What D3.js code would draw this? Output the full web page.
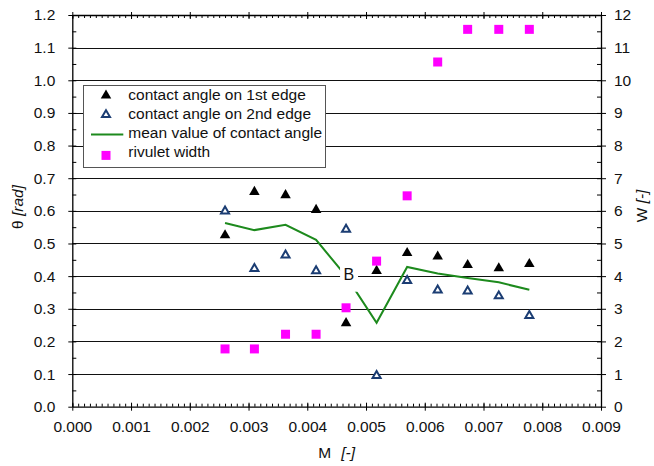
<!DOCTYPE html>
<html>
<head>
<meta charset="utf-8">
<script src="https://cdn.jsdelivr.net/npm/d3@7"></script>
<style>
  body { margin: 0; background: #fff; }
  text { font-family: "Liberation Sans", Arial, sans-serif; fill: #111; }
</style>
</head>
<body>
<div id="chart"></div>
<script>
// data
const mValues = [0.0026, 0.0031, 0.00363, 0.00415, 0.00466, 0.00518, 0.0057, 0.00622, 0.00673, 0.00726, 0.00778];
const angle1st = [0.525, 0.658, 0.648, 0.603, 0.256, 0.416, 0.471, 0.46, 0.434, 0.424, 0.437];
const angle2nd = [0.599, 0.423, 0.464, 0.416, 0.543, 0.095, 0.386, 0.357, 0.354, 0.339, 0.279];
const angleMean = [0.563, 0.541, 0.557, 0.511, 0.4, 0.257, 0.428, 0.408, 0.394, 0.381, 0.358];
const rivuletWidth = [1.77, 1.77, 2.22, 2.22, 3.03, 4.46, 6.46, 10.56, 11.56, 11.56, 11.56];

const xTicks = [0, 0.001, 0.002, 0.003, 0.004, 0.005, 0.006, 0.007, 0.008, 0.009];
const yTicks = [0, 0.1, 0.2, 0.3, 0.4, 0.5, 0.6, 0.7, 0.8, 0.9, 1.0, 1.1, 1.2];
const wTicks = [0, 1, 2, 3, 4, 5, 6, 7, 8, 9, 10, 11, 12];

const legendLabels = [
  "contact angle on 1st edge",
  "contact angle on 2nd edge",
  "mean value of contact angle",
  "rivulet width",
];
const pointLabel = { text: "B", index: 4, value: 0.4 };

//////////LAYOUT//////////
const svgObj = { width: 654, height: 466 };
const plot = { left: 72.3, right: 601, top: 15, bottom: 406.7 };
const fontSize = 15.5;

const colors = {
  first: "#000000",
  second: "#1b3d73",
  mean: "#1d8a1d",
  width: "#ff00ff",
  grid: "#111111",
};

const xScale = d3.scaleLinear().domain([0, 0.009]).range([plot.left, plot.right]);
const yScale = d3.scaleLinear().domain([0, 1.2]).range([plot.bottom, plot.top]);
const wScale = d3.scaleLinear().domain([0, 12]).range([plot.bottom, plot.top]);

const svg = d3
  .select("#chart")
  .append("svg")
  .attr("width", svgObj.width)
  .attr("height", svgObj.height);

// gridlines
svg
  .append("g")
  .selectAll("line")
  .data(yTicks.filter((d) => d > 0 && d < 1.2))
  .join("line")
  .attr("x1", plot.left)
  .attr("x2", plot.right)
  .attr("y1", (d) => Math.round(yScale(d)) + 0.5)
  .attr("y2", (d) => Math.round(yScale(d)) + 0.5)
  .attr("stroke", colors.grid)
  .attr("stroke-width", 1);

// minor tick values
const xMinor = d3.range(0, 91).map((i) => i * 0.0001);
const yMinor = d3.range(0, 24).map((i) => i * 0.05 + 0.05);
const wMinor = d3.range(0, 24).map((i) => i * 0.5 + 0.5);

// bottom axis
const bottomAxis = svg
  .append("g")
  .attr("transform", `translate(0, ${plot.bottom})`)
  .call(d3.axisBottom(xScale).tickValues(xMinor).tickSize(-3).tickFormat("").tickSizeOuter(0));
bottomAxis.select(".domain").remove();
svg
  .append("g")
  .attr("transform", `translate(0, ${plot.bottom})`)
  .call(d3.axisBottom(xScale).tickValues(xTicks).tickSize(4).tickSizeOuter(0).tickFormat(d3.format(".3f")).tickPadding(10))
  .call((g) => g.selectAll("text").attr("font-size", fontSize))
  .call((g) => g.selectAll(".tick line").attr("y1", -4));

// top axis
const topAxis = svg
  .append("g")
  .attr("transform", `translate(0, ${plot.top})`)
  .call(d3.axisTop(xScale).tickValues(xMinor).tickSize(-3).tickFormat("").tickSizeOuter(0));
topAxis.select(".domain").remove();
svg
  .append("g")
  .attr("transform", `translate(0, ${plot.top})`)
  .call(d3.axisTop(xScale).tickValues(xTicks).tickSize(3).tickFormat("").tickSizeOuter(0))
  .call((g) => g.selectAll(".tick line").attr("y1", 4));

// left axis
const leftMinor = svg
  .append("g")
  .attr("transform", `translate(${plot.left}, 0)`)
  .call(d3.axisLeft(yScale).tickValues(yMinor).tickSize(-4).tickFormat(""));
leftMinor.select(".domain").remove();
svg
  .append("g")
  .attr("transform", `translate(${plot.left}, 0)`)
  .call(d3.axisLeft(yScale).tickValues(yTicks).tickSize(4).tickSizeOuter(0).tickFormat(d3.format(".1f")).tickPadding(13))
  .call((g) => g.selectAll("text").attr("font-size", fontSize));

// right axis
const rightMinor = svg
  .append("g")
  .attr("transform", `translate(${plot.right}, 0)`)
  .call(d3.axisRight(wScale).tickValues(wMinor).tickSize(-4).tickFormat(""));
rightMinor.select(".domain").remove();
svg
  .append("g")
  .attr("transform", `translate(${plot.right}, 0)`)
  .call(d3.axisRight(wScale).tickValues(wTicks).tickSize(5).tickSizeOuter(0).tickPadding(8))
  .call((g) => g.selectAll("text").attr("font-size", fontSize));

svg.selectAll(".domain").attr("stroke", "#000").attr("stroke-width", 1.3);

// axis titles
const xTitle = svg
  .append("text")
  .attr("x", (plot.left + plot.right) / 2)
  .attr("y", 458)
  .attr("text-anchor", "middle")
  .attr("font-size", fontSize);
xTitle.append("tspan").text("M");
xTitle.append("tspan").attr("dx", 10).attr("font-style", "italic").text("[-]");

const yTitle = svg
  .append("text")
  .attr("transform", "translate(23, 207) rotate(-90)")
  .attr("text-anchor", "middle")
  .attr("font-size", fontSize);
yTitle.append("tspan").text("θ ");
yTitle.append("tspan").attr("font-style", "italic").text("[rad]");

const wTitle = svg
  .append("text")
  .attr("transform", "translate(647, 206) rotate(-90)")
  .attr("text-anchor", "middle")
  .attr("font-size", fontSize);
wTitle.append("tspan").text("W ");
wTitle.append("tspan").attr("font-style", "italic").text("[-]");

// mean line
const meanLine = d3
  .line()
  .x((d, i) => xScale(mValues[i]))
  .y((d) => yScale(d));

svg
  .append("path")
  .datum(angleMean)
  .attr("d", meanLine)
  .attr("fill", "none")
  .attr("stroke", colors.mean)
  .attr("stroke-width", 2);

// "B" label box
const bx = xScale(mValues[pointLabel.index]);
const by = yScale(pointLabel.value);
svg
  .append("rect")
  .attr("x", bx - 6)
  .attr("y", by - 15.6)
  .attr("width", 18)
  .attr("height", 31.2)
  .attr("fill", "#fff");
svg
  .append("text")
  .attr("x", bx + 2.7)
  .attr("y", by + 3.4)
  .attr("text-anchor", "middle")
  .attr("font-size", 16)
  .text(pointLabel.text);

// markers
const triFilled = d3.symbol().type(d3.symbolTriangle).size(48);
const triOpen = d3.symbol().type(d3.symbolTriangle).size(28);
const square = d3.symbol().type(d3.symbolSquare).size(81);

svg
  .append("g")
  .selectAll("path")
  .data(angle2nd)
  .join("path")
  .attr("d", triOpen)
  .attr("transform", (d, i) => `translate(${xScale(mValues[i])}, ${yScale(d)})`)
  .attr("fill", "#fff")
  .attr("stroke", colors.second)
  .attr("stroke-width", 2);

svg
  .append("g")
  .selectAll("path")
  .data(angle1st)
  .join("path")
  .attr("d", triFilled)
  .attr("transform", (d, i) => `translate(${xScale(mValues[i])}, ${yScale(d)})`)
  .attr("fill", colors.first);

svg
  .append("g")
  .selectAll("path")
  .data(rivuletWidth)
  .join("path")
  .attr("d", square)
  .attr("transform", (d, i) => `translate(${xScale(mValues[i])}, ${wScale(d)})`)
  .attr("fill", colors.width);

// legend
const legendObj = { x: 83, y: 85, width: 242, height: 82, rowStart: 99.5, rowHeight: 19.3 };
const legend = svg.append("g");
legend
  .append("rect")
  .attr("x", legendObj.x + 0.5)
  .attr("y", legendObj.y + 0.5)
  .attr("width", legendObj.width)
  .attr("height", legendObj.height)
  .attr("fill", "#fff")
  .attr("stroke", "#555")
  .attr("stroke-width", 1);

legendLabels.forEach((label, i) => {
  const baseY = legendObj.rowStart + i * legendObj.rowHeight;
  legend
    .append("text")
    .attr("x", 128.3)
    .attr("y", baseY)
    .attr("font-size", fontSize)
    .text(label);

  const markY = baseY - 4;
  if (i === 0) {
    legend.append("path").attr("d", triFilled).attr("transform", `translate(106, ${markY})`).attr("fill", colors.first);
  } else if (i === 1) {
    legend
      .append("path")
      .attr("d", triOpen)
      .attr("transform", `translate(106, ${markY})`)
      .attr("fill", "#fff")
      .attr("stroke", colors.second)
      .attr("stroke-width", 2);
  } else if (i === 2) {
    legend
      .append("line")
      .attr("x1", 91)
      .attr("x2", 123.3)
      .attr("y1", markY + 0.5)
      .attr("y2", markY + 0.5)
      .attr("stroke", colors.mean)
      .attr("stroke-width", 2);
  } else {
    legend.append("path").attr("d", square).attr("transform", `translate(106, ${markY + 2})`).attr("fill", colors.width);
  }
});
</script>
</body>
</html>
